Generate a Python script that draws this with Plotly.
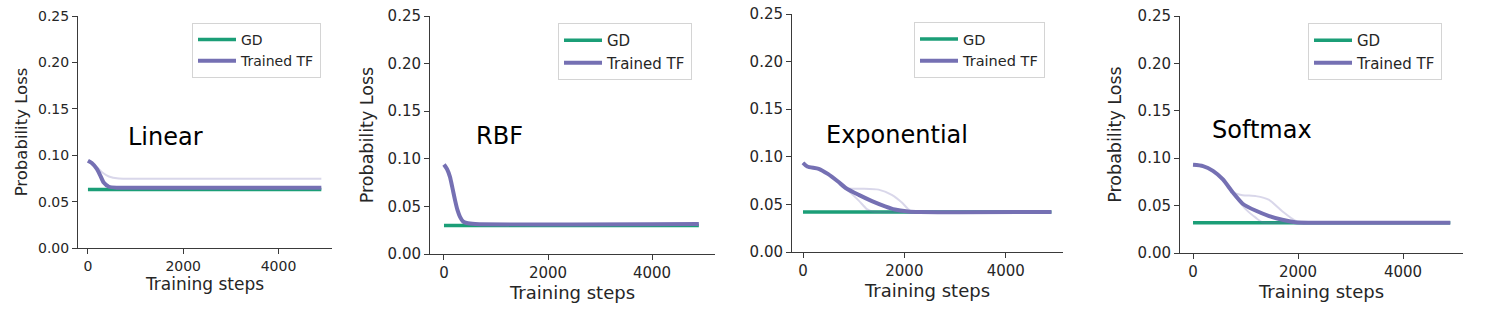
import plotly.graph_objects as go

# ---------------- data ----------------
panel_names = ["Linear", "RBF", "Exponential", "Softmax"]
x_end = 4900

gd_values = [0.063, 0.030, 0.042, 0.032]

# Linear
lin_x = [0, 80, 190, 260, 330, 440, 600, 1000, 4900]
lin_y = [0.094, 0.0915, 0.085, 0.078, 0.0705, 0.066, 0.065, 0.065, 0.065]
lin_faint_x = [0, 80, 190, 310, 440, 650, 1000, 4900]
lin_faint_y = [0.094, 0.0915, 0.087, 0.081, 0.077, 0.0748, 0.0745, 0.0745]

# RBF
rbf_x = [0, 60, 115, 160, 212, 260, 308, 370, 436, 600, 4900]
rbf_y = [0.094, 0.089, 0.081, 0.070, 0.0566, 0.046, 0.039, 0.034, 0.0325, 0.0315, 0.0315]

# Exponential
exp_x = [0, 85, 310, 490, 690, 850, 1100, 1360, 1620, 1810, 2070, 2300, 4900]
exp_y = [0.0937, 0.0898, 0.0874, 0.082, 0.074, 0.067, 0.060, 0.0535, 0.048, 0.0447, 0.0426, 0.042, 0.042]
exp_faint1_x = [0, 85, 310, 490, 690, 870, 1150, 1490, 1750, 1950, 2110, 2300, 4900]
exp_faint1_y = [0.0937, 0.0898, 0.0874, 0.082, 0.074, 0.067, 0.0665, 0.0655, 0.060, 0.052, 0.0435, 0.042, 0.042]
exp_faint2_x = [0, 85, 310, 490, 690, 880, 1100, 1260, 1360, 1500, 4900]
exp_faint2_y = [0.0937, 0.0898, 0.0874, 0.082, 0.074, 0.065, 0.054, 0.045, 0.0425, 0.042, 0.042]

# Softmax
soft_x = [0, 190, 380, 570, 755, 945, 1200, 1450, 1700, 1950, 2200, 4900]
soft_y = [0.093, 0.0917, 0.0867, 0.0776, 0.064, 0.052, 0.0445, 0.039, 0.035, 0.0325, 0.032, 0.032]
soft_faint1_x = [0, 190, 380, 570, 755, 945, 1200, 1450, 1700, 1950, 2080, 2300, 4900]
soft_faint1_y = [0.093, 0.0917, 0.0867, 0.0776, 0.064, 0.061, 0.060, 0.056, 0.044, 0.034, 0.0325, 0.032, 0.032]
soft_faint2_x = [0, 190, 380, 570, 755, 820, 1007, 1200, 1320, 1500, 4900]
soft_faint2_y = [0.093, 0.0917, 0.0867, 0.0776, 0.064, 0.059, 0.046, 0.037, 0.0325, 0.032, 0.032]

x_ticks = [0, 2000, 4000]
y_ticks = [0.00, 0.05, 0.10, 0.15, 0.20, 0.25]
y_tick_labels = ["0.00", "0.05", "0.10", "0.15", "0.20", "0.25"]

main_curves = [(lin_x, lin_y), (rbf_x, rbf_y), (exp_x, exp_y), (soft_x, soft_y)]
faint_curves = [
    [(lin_faint_x, lin_faint_y)],
    [],
    [(exp_faint1_x, exp_faint1_y), (exp_faint2_x, exp_faint2_y)],
    [(soft_faint1_x, soft_faint1_y), (soft_faint2_x, soft_faint2_y)],
]

# annotation positions in data coords
label_pos = [(1633, 0.120), (1058, 0.1238), (1852, 0.1229), (1314, 0.1297)]

# ---------------- layout geometry ----------------
W, H = 1495, 311
GD_COLOR = "#1b9e77"
TF_COLOR = "#7570b3"
FAINT = "rgba(117,112,179,0.28)"
TXT = "#262626"
AX = "#3a3a3a"

# pixel extents of axes: (left, right, top, bottom)
axes_px = [(78, 332, 16, 248), (430, 715, 16, 254), (792, 1063, 14, 252), (1180, 1463, 16, 253)]
x_ranges = [[-209, 5124], [-269, 5211], [-217, 5129], [-248, 5143]]
tick_sizes = [14, 15, 15, 15]
title_sizes = [17, 18, 18, 18]
show_ytitle = [True, True, False, True]
legend_px = [(192, 23), (558, 23), (914, 22), (1308, 23)]
legend_font = [14, 15, 14.5, 15]
ytitle_standoff = [6, 9, 9, 11]

fig = go.Figure()

for i in range(4):
    xa = "x" if i == 0 else f"x{i+1}"
    ya = "y" if i == 0 else f"y{i+1}"
    lg = "legend" if i == 0 else f"legend{i+1}"
    fig.add_trace(go.Scatter(
        x=[0, x_end], y=[gd_values[i], gd_values[i]], mode="lines",
        line=dict(color=GD_COLOR, width=3.5), name="GD",
        xaxis=xa, yaxis=ya, legend=lg, legendgroup=f"gd{i}", showlegend=True,
    ))
    for fx, fy in faint_curves[i]:
        fig.add_trace(go.Scatter(
            x=fx, y=fy, mode="lines",
            line=dict(color=FAINT, width=2, shape="spline", smoothing=0.6),
            xaxis=xa, yaxis=ya, showlegend=False, hoverinfo="skip",
        ))
    mx, my = main_curves[i]
    fig.add_trace(go.Scatter(
        x=mx, y=my, mode="lines",
        line=dict(color=TF_COLOR, width=4, shape="spline", smoothing=0.6),
        name="Trained TF", xaxis=xa, yaxis=ya, legend=lg,
        legendgroup=f"tf{i}", showlegend=True,
    ))

layout = dict(
    width=W, height=H,
    margin=dict(l=0, r=0, t=0, b=0, autoexpand=False),
    paper_bgcolor="white", plot_bgcolor="white",
    font=dict(family="DejaVu Sans", color=TXT),
    annotations=[],
)

for i in range(4):
    l, r, t, b = axes_px[i]
    xk = "xaxis" if i == 0 else f"xaxis{i+1}"
    yk = "yaxis" if i == 0 else f"yaxis{i+1}"
    xa_name = "x" if i == 0 else f"x{i+1}"
    ya_name = "y" if i == 0 else f"y{i+1}"
    layout[xk] = dict(
        domain=[l / W, r / W], range=x_ranges[i], anchor=ya_name,
        tickvals=x_ticks, ticktext=[str(v) for v in x_ticks],
        showgrid=False, zeroline=False, showline=True, linecolor=AX, linewidth=1,
        ticks="outside", ticklen=5, tickcolor=AX, automargin=False,
        tickfont=dict(size=tick_sizes[i], color=TXT),
        title=dict(text="Training steps", font=dict(size=title_sizes[i], color=TXT), standoff=2),
    )
    layout[yk] = dict(
        domain=[1 - b / H, 1 - t / H], range=[0, 0.25], anchor=xa_name,
        tickvals=y_ticks, ticktext=y_tick_labels,
        showgrid=False, zeroline=False, showline=True, linecolor=AX, linewidth=1,
        ticks="outside", ticklen=5, tickcolor=AX, automargin=False,
        tickfont=dict(size=tick_sizes[i], color=TXT),
        title=dict(text="Probability Loss" if show_ytitle[i] else "",
                   font=dict(size=title_sizes[i] - 0.5, color=TXT), standoff=ytitle_standoff[i]),
    )
    lk = "legend" if i == 0 else f"legend{i+1}"
    lx, ly = legend_px[i]
    layout[lk] = dict(
        x=lx / W, y=1 - ly / H, xanchor="left", yanchor="top",
        xref="paper", yref="paper",
        bgcolor="white", bordercolor="#d4d4d4", borderwidth=1,
        font=dict(size=legend_font[i], color=TXT, family="DejaVu Sans"),
        tracegroupgap=0, itemwidth=38,
    )
    px_, py_ = label_pos[i]
    layout["annotations"].append(dict(
        x=px_, y=py_, xref=xa_name, yref=ya_name, text=panel_names[i],
        showarrow=False, xanchor="center", yanchor="middle",
        font=dict(family="DejaVu Sans", size=24, color="black"),
    ))

fig.update_layout(**layout)
fig.write_html(
    "out.html",
    config={"displayModeBar": False},
    post_script="document.body.style.margin='0';document.body.style.overflow='hidden';",
)
